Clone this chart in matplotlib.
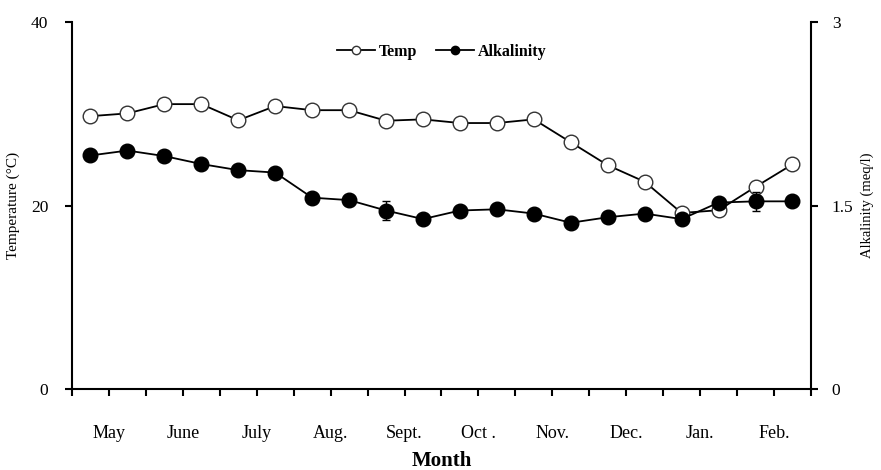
import numpy as np
import matplotlib
matplotlib.use("Agg")
import matplotlib.pyplot as plt
from matplotlib.lines import Line2D

plt.rcParams["font.family"] = ["Liberation Serif", "DejaVu Serif"]

# ---- data (two samplings per month) ----
months = ["May", "June", "July", "Aug.", "Sept.", "Oct .", "Nov.", "Dec.", "Jan.", "Feb."]
temp = [29.75, 30.05, 31.06, 31.06, 29.3, 30.85, 30.4, 30.4, 29.25, 29.4,
        29.0, 29.0, 29.4, 26.9, 24.4, 22.6, 19.2, 19.5, 22.05, 24.5]
alk = [1.91, 1.95, 1.905, 1.84, 1.79, 1.77, 1.565, 1.545, 1.46, 1.39,
       1.46, 1.47, 1.435, 1.36, 1.405, 1.435, 1.39, 1.525, 1.535, 1.535]
alk_err = [0.02, 0.02, 0.02, 0.02, 0.02, 0.02, 0.02, 0.02, 0.08, 0.02,
           0.02, 0.02, 0.02, 0.02, 0.02, 0.02, 0.02, 0.02, 0.08, 0.02]

x = np.arange(len(temp))

fig = plt.figure(figsize=(8.81, 4.70), dpi=100)
ax = fig.add_axes([0.0817, 0.172, 0.8388, 0.781])
ax2 = ax.twinx()

ax.plot(x, temp, color="black", linewidth=1.3, marker="o", markersize=10.5,
        markerfacecolor="white", markeredgecolor="#333333", markeredgewidth=1.0)
ax2.errorbar(x, alk, yerr=alk_err, color="black", linewidth=1.3, marker="o",
             markersize=10.5, markerfacecolor="black", ecolor="black",
             elinewidth=1.0, capsize=3)

ax.set_xlim(-0.5, len(temp) - 0.5)
ax.set_ylim(0, 40)
ax2.set_ylim(0, 3)
ax.set_yticks([0, 20, 40])
ax2.set_yticks([0, 1.5, 3])
ax2.set_yticklabels(["0", "1.5", "3"])

# category boundaries as ticks, month name on every second boundary
bounds = np.arange(-0.5, len(temp), 1)
ax.set_xticks(bounds)
ax.set_xticklabels(["" if i % 2 == 0 else months[i // 2] for i in range(len(bounds))],
                   fontsize=13)
ax.tick_params(axis="x", direction="out", length=5, width=1.5, pad=21)
ax.tick_params(axis="y", direction="out", length=5, width=1.5, labelsize=12.5, pad=12)
ax2.tick_params(axis="y", direction="out", length=5, width=1.5, labelsize=12.5, pad=10)

for a in (ax, ax2):
    a.spines["top"].set_visible(False)
    for s in ("left", "right", "bottom"):
        a.spines[s].set_linewidth(1.5)
ax.spines["right"].set_visible(False)
ax2.spines["left"].set_visible(False)
ax2.spines["bottom"].set_visible(False)

ax.set_ylabel("Temperature (°C)", fontsize=11, labelpad=8)
ax2.set_ylabel("Alkalinity (meq/l)", fontsize=10.5, rotation=90, labelpad=5)
ax.set_xlabel("Month", fontsize=15, fontweight="bold", labelpad=6)

handles = [
    Line2D([], [], color="black", linewidth=1.3, marker="o", markersize=6,
           markerfacecolor="white", markeredgecolor="#333333"),
    Line2D([], [], color="black", linewidth=1.3, marker="o", markersize=6,
           markerfacecolor="black"),
]
ax2.legend(handles, ["Temp", "Alkalinity"], loc="upper center",
           bbox_to_anchor=(0.5, 0.98), ncol=2, frameon=False, handlelength=2.4,
           handletextpad=0.2, columnspacing=1.2,
           prop={"weight": "bold", "size": 11.5})

fig.savefig("out.png", dpi=100)
